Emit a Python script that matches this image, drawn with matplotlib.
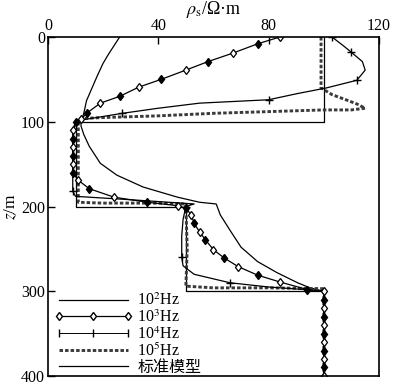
import matplotlib
matplotlib.use("Agg")
import matplotlib.pyplot as plt
from matplotlib.lines import Line2D

plt.rcParams['font.family'] = ['Liberation Serif', 'Noto Sans CJK SC']
plt.rcParams['mathtext.fontset'] = 'stix'
plt.rcParams['font.size'] = 11

# standard (true) model
model_rho = [100, 100, 10, 10, 50, 50, 100, 100]
model_z = [0, 100, 100, 200, 200, 300, 300, 400]

# 10^2 Hz
rho_1e2 = [26, 24, 22, 20, 18, 16, 14, 13, 12, 12, 13, 15, 19, 25, 34.5, 47, 55, 61,
           62.5, 66, 70, 76, 83, 90.5, 95, 100, 100]
z_1e2 = [0, 10, 20, 31, 45, 60, 75, 90, 100, 105, 115, 129, 149, 163, 177, 189, 195, 197,
         210, 228, 248, 265, 278, 290, 296, 300, 400]

# 10^3 Hz
rho_1e3 = [84, 76, 67, 58, 50, 41, 33, 26, 19, 14, 12, 10, 9, 9, 9, 9, 9, 9, 11, 15, 24,
           36, 47, 50, 52, 53, 55, 57, 60, 64, 69, 76, 84, 94, 100,
           100, 100, 100, 100, 100, 100, 100, 100, 100, 100]
z_1e3 = [0, 8, 19, 29, 39, 50, 59, 70, 78, 90, 97, 100, 110, 120, 130, 140, 150, 160, 169,
         179, 189, 195, 199, 202, 210, 220, 230, 239, 251, 261, 271, 281, 289, 298, 300,
         310, 320, 330, 340, 350, 360, 370, 380, 390, 400]

# 10^4 Hz
rho_1e4 = [103, 107, 110, 114, 115, 112, 101, 90, 80, 55, 40, 27, 12, 10, 9, 9, 9, 10, 30,
           53, 50, 49, 48.5, 48.5, 49, 53, 66, 80, 93, 100, 100]
z_1e4 = [0, 10, 18, 29, 39, 51, 60, 67, 74, 78, 84, 90, 98, 100, 120, 150, 182, 188, 192,
         197, 200, 215, 235, 260, 270, 280, 290, 295, 298, 300, 400]

# 10^5 Hz
rho_1e5 = [99, 99, 103, 108, 112, 115, 110, 100, 80, 60, 40, 20, 13, 11, 11, 11, 20, 40,
           50, 50, 50.5, 50, 60, 80, 100, 100, 100]
z_1e5 = [0, 60, 68, 74, 79, 84, 86, 86, 88, 90, 93, 95, 96, 100, 150, 195, 196, 196,
         197, 200, 250, 294, 296, 296, 297, 300, 400]

xticks = [0, 40, 80, 120]
yticks = [0, 100, 200, 300, 400]

fig = plt.figure(figsize=(3.96, 3.86), dpi=100)
ax = fig.add_axes([0.121, 0.026, 0.836, 0.878])

dash5 = (0, (1.2, 0.7))

ax.plot(model_rho, model_z, color='black', lw=0.9)
ax.plot(rho_1e2, z_1e2, color='black', lw=0.9)
ax.plot(rho_1e5, z_1e5, color='#3a3a3a', lw=2.1, linestyle=dash5)
ax.plot(rho_1e4, z_1e4, color='black', lw=0.9, marker='+', markersize=6,
        markevery=[0, 2, 5, 8, 11, 16, 20, 23, 26])
ax.plot(rho_1e3, z_1e3, color='black', lw=0.9, marker='d', markersize=4.5,
        markerfacecolor='white', markeredgecolor='black', markeredgewidth=0.9,
        markevery=slice(0, None, 2))
ax.plot(rho_1e3, z_1e3, linestyle='none', marker='d', markersize=4.5,
        markerfacecolor='black', markeredgecolor='black',
        markevery=slice(1, None, 2))

ax.set_xlim(0, 120)
ax.set_ylim(400, 0)
ax.xaxis.tick_top()
ax.xaxis.set_label_position('top')
ax.set_xticks(xticks)
ax.set_yticks(yticks)
ax.tick_params(direction='in', length=5, width=1, labelsize=11.5, pad=2)
for s in ax.spines.values():
    s.set_linewidth(1.2)

ax.set_xlabel(r'$\rho_{\rm s}$/Ω·m', fontsize=13, labelpad=3)
ax.set_ylabel(r'$z$/m', fontsize=12.5, labelpad=1)

handles = [
    Line2D([], [], color='black', lw=0.9),
    Line2D([], [], color='black', lw=0.9, marker='d', markersize=4.5,
           markerfacecolor='white', markeredgecolor='black'),
    Line2D([], [], color='black', lw=0.7, marker='|', markersize=6),
    Line2D([], [], color='#3a3a3a', lw=2.1, linestyle=dash5),
    Line2D([], [], color='black', lw=0.9),
]
labels = [r'10$^2$Hz', r'10$^3$Hz', r'10$^4$Hz', r'10$^5$Hz', '标准模型']
ax.legend(handles, labels, loc='lower left', bbox_to_anchor=(-0.01, -0.028),
          frameon=False, numpoints=3, handlelength=4.9, handletextpad=0.3,
          labelspacing=0.0, borderpad=0.4, borderaxespad=0.2, fontsize=11.5)

fig.savefig('out.png', dpi=100)
